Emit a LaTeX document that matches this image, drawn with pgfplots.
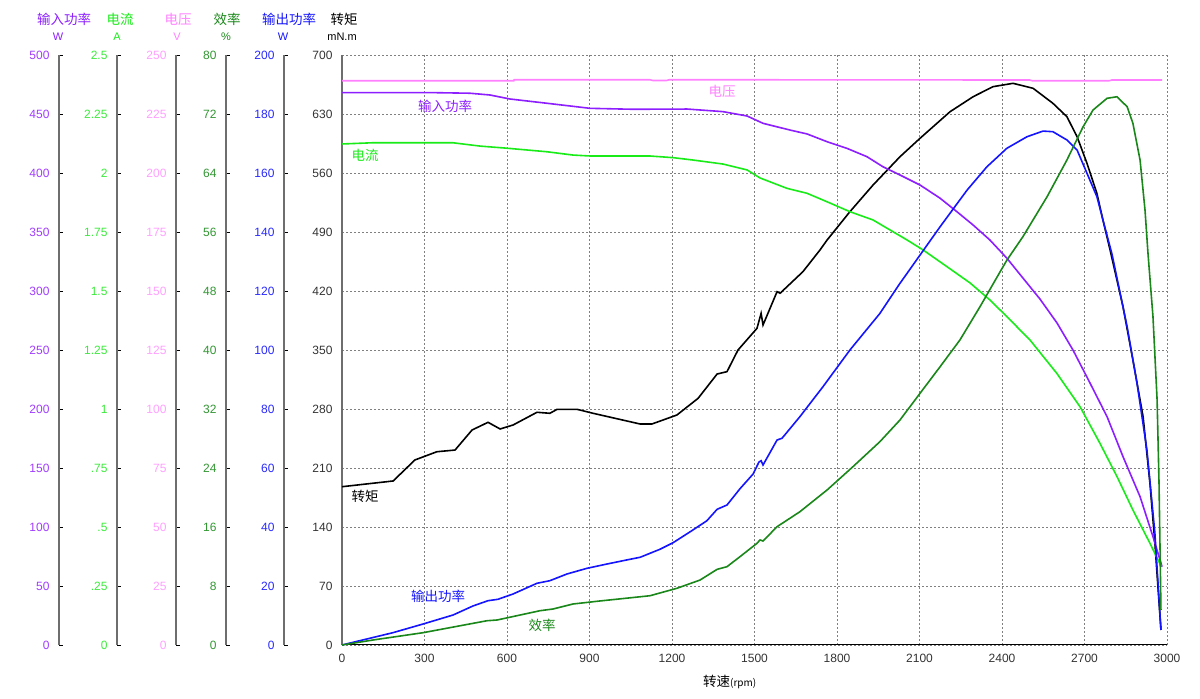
\documentclass[border=0pt]{standalone}
\usepackage{pgfplots}
\pgfplotsset{compat=1.18}
\usepackage{fontspec}
\setmainfont{Liberation Sans}
\newfontfamily\cjk{Noto Sans CJK SC}
\definecolor{cpin}{RGB}{140,30,255}
\definecolor{ccur}{RGB}{25,235,25}
\definecolor{cvol}{RGB}{255,128,255}
\definecolor{ceff}{RGB}{25,135,25}
\definecolor{cout}{RGB}{20,20,255}
\definecolor{tpin}{RGB}{160,60,255}
\definecolor{tcur}{RGB}{60,235,60}
\definecolor{tvol}{RGB}{255,160,255}
\definecolor{teff}{RGB}{50,150,50}
\definecolor{tout}{RGB}{40,40,255}
\definecolor{axgray}{RGB}{110,110,110}
\newcommand{\tickfont}{\fontsize{12}{13}\selectfont}
\newcommand{\cjkfont}{\cjk\fontsize{13.5}{14}\selectfont}
\pgfplotsset{
  series/.style={scale only axis, width=825pt, height=590pt, at={(342pt,54pt)}, anchor=south west,
    xmin=0, xmax=3000, ymin=0, hide axis, clip=false},
  scaleax/.style={scale only axis, width=1pt, height=590pt, anchor=south west, xmin=0, xmax=1, ymin=0,
    hide x axis, axis y line*=left, tick align=inside, major tick length=4pt,
    y axis line style={color=axgray, line width=1.3pt, -},
    ytick style={black, line width=0.8pt},
    yticklabel style={font=\tickfont, anchor=east, xshift=-6pt},
    /pgf/number format/assume math mode=true, /pgf/number format/1000 sep={}},
}
\begin{document}
\begin{tikzpicture}
\useasboundingbox (0,0) rectangle (1200pt,699pt);
% ---- left scales ----
\begin{axis}[scaleax, at={(59pt,54pt)}, ymax=500, ytick={0,50,...,500}, yticklabel style={color=tpin}]
\addplot[draw=none] coordinates {(0,0)};
\end{axis}
\begin{axis}[scaleax, at={(117pt,54pt)}, ymax=2.5, ytick={0,0.25,0.5,0.75,1,1.25,1.5,1.75,2,2.25,2.5},
  yticklabels={0,.25,.5,.75,1,1.25,1.5,1.75,2,2.25,2.5}, yticklabel style={color=tcur}]
\addplot[draw=none] coordinates {(0,0)};
\end{axis}
\begin{axis}[scaleax, at={(176pt,54pt)}, ymax=250, ytick={0,25,...,250}, yticklabel style={color=tvol}]
\addplot[draw=none] coordinates {(0,0)};
\end{axis}
\begin{axis}[scaleax, at={(226pt,54pt)}, ymax=80, ytick={0,8,...,80}, yticklabel style={color=teff}]
\addplot[draw=none] coordinates {(0,0)};
\end{axis}
\begin{axis}[scaleax, at={(284pt,54pt)}, ymax=200, ytick={0,20,...,200}, yticklabel style={color=tout}]
\addplot[draw=none] coordinates {(0,0)};
\end{axis}
% ---- main axis: torque ----
\begin{axis}[scale only axis, width=825pt, height=590pt, at={(342pt,54pt)}, anchor=south west,
  xmin=0, xmax=3000, ymin=0, ymax=700, xtick={0,300,...,3000}, ytick={0,70,...,700},
  axis x line*=bottom, axis y line*=left,
  x axis line style={black, line width=1pt, -}, y axis line style={axgray, line width=1.3pt, -},
  major tick length=0pt, grid=major,
  major grid style={color=gray, dash pattern=on 2pt off 2pt, line width=0.7pt},
  ticklabel style={font=\tickfont, color=black!80},
  yticklabel style={xshift=-6pt},
  xticklabel style={yshift=-6pt},
  /pgf/number format/assume math mode=true, /pgf/number format/1000 sep={}, clip=false]
\addplot[black, line width=1.6pt] coordinates {
(0,187.8)(186,194.6)(265,219.5)(345,229.3)(411,231.3)(473,255.1)(531,264.2)(575,256.3)(622,261.0)
(709,276.1)(756,274.9)(782,279.6)(855,279.6)(913,274.9)(1084,262.2)(1127,262.2)(1218,272.9)
(1295,292.7)(1364,321.5)(1400,324.3)(1440,350.0)(1509,375.7)(1524,393.5)(1531,379.7)(1582,419.2)
(1593,417.3)(1676,442.9)(1738,468.6)(1764,480.5)(1847,514.1)(1931,545.7)(2029,579.3)(2102,601.2)
(2211,632.7)(2295,650.5)(2367,662.4)(2440,666.4)(2513,660.5)(2585,642.7)(2636,626.8)(2673,603.1)
(2709,571.5)(2745,535.9)(2767,504.2)(2793,468.6)(2840,401.4)(2876,338.1)(2913,270.9)(2938,191.8)
(2956,120.7)(2978,17.8)};
\end{axis}
% ---- voltage ----
\begin{axis}[series, ymax=250]
\addplot[cvol, line width=1.6pt] coordinates {
(0,239.1)(625,239.1)(626,239.5)(1120,239.5)(1130,239.2)(1180,239.2)(1190,239.5)(1450,239.5)
(2500,239.4)(2510,239.1)(2790,239.1)(2800,239.4)(2982,239.4)};
\end{axis}
% ---- input power ----
\begin{axis}[series, ymax=500]
\addplot[cpin, line width=1.6pt] coordinates {
(0,468.1)(331,468.1)(465,467.6)(538,466.1)(611,462.7)(745,459.1)(902,454.8)(1058,454.0)(1255,454.2)
(1385,452.0)(1473,448.3)(1531,442.1)(1629,436.4)(1691,433.1)(1764,426.5)(1836,420.9)(1909,413.8)
(1967,405.3)(2029,398.3)(2102,389.8)(2175,378.6)(2236,367.2)(2295,355.9)(2356,343.2)(2418,327.7)
(2476,311.0)(2538,293.2)(2600,272.9)(2658,250.0)(2720,222.0)(2782,193.5)(2840,159.6)(2902,125.7)
(2949,91.8)(2982,66.4)};
\end{axis}
% ---- current ----
\begin{axis}[series, ymax=2.5]
\addplot[ccur, line width=1.6pt] coordinates {
(0,2.123)(109,2.128)(404,2.128)(502,2.114)(600,2.105)(745,2.090)(840,2.076)(902,2.072)(1120,2.072)
(1204,2.065)(1276,2.055)(1385,2.038)(1473,2.013)(1520,1.979)(1618,1.935)(1691,1.914)(1764,1.878)
(1847,1.836)(1931,1.801)(1982,1.766)(2055,1.716)(2113,1.674)(2200,1.603)(2284,1.534)(2356,1.462)
(2418,1.391)(2502,1.292)(2600,1.150)(2684,1.009)(2756,0.855)(2818,0.714)(2876,0.572)(2938,0.431)
(2978,0.335)};
\end{axis}
% ---- output power ----
\begin{axis}[series, ymax=200]
\addplot[cout, line width=1.6pt] coordinates {
(0,0)(185,4.17)(295,7.12)(404,10.17)(476,13.22)(531,15.02)(567,15.49)(622,17.29)(709,20.92)
(756,21.80)(818,24.07)(891,26.00)(964,27.46)(1047,29.05)(1084,29.73)(1156,32.44)(1204,34.68)
(1276,38.98)(1327,42.14)(1364,46.00)(1400,47.46)(1447,52.95)(1495,57.97)(1516,62.0)(1524,62.47)
(1531,61.02)(1582,69.49)(1600,70.07)(1665,77.39)(1749,87.56)(1847,100.0)(1956,112.4)(2029,122.6)
(2102,132.2)(2175,141.8)(2273,154.2)(2345,162.1)(2418,168.4)(2491,172.3)(2549,174.2)(2585,174.0)
(2636,171.2)(2673,167.8)(2709,159.9)(2745,152.0)(2767,144.1)(2800,132.5)(2855,107.9)(2891,88.7)
(2927,66.1)(2956,37.9)(2978,5.1)};
\end{axis}
% ---- efficiency ----
\begin{axis}[series, ymax=80]
\addplot[ceff, line width=1.6pt] coordinates {
(0,0)(113,0.68)(295,1.67)(527,3.29)(564,3.39)(720,4.65)(767,4.88)(840,5.56)(938,5.97)(1120,6.68)
(1218,7.69)(1302,8.81)(1364,10.26)(1400,10.62)(1447,11.97)(1509,13.79)(1520,14.24)(1531,14.10)
(1582,16.04)(1665,18.07)(1764,21.02)(1858,24.18)(1956,27.57)(2029,30.51)(2102,34.13)(2175,37.74)
(2247,41.36)(2320,45.87)(2393,50.6)(2418,52.2)(2476,55.36)(2564,60.79)(2636,65.76)(2695,70.28)
(2731,72.54)(2782,74.13)(2818,74.34)(2855,72.99)(2876,70.74)(2902,65.76)(2920,58.98)(2931,53.02)
(2949,44.51)(2964,33.22)(2971,21.92)(2978,4.75)};
\end{axis}
% ---- titles ----
\node[font=\cjkfont, text=cpin] at (64pt,680pt) {输入功率};
\node[font=\cjkfont, text=ccur] at (120pt,680pt) {电流};
\node[font=\cjkfont, text=cvol] at (178pt,680pt) {电压};
\node[font=\cjkfont, text=ceff] at (227pt,680pt) {效率};
\node[font=\cjkfont, text=cout] at (289pt,680pt) {输出功率};
\node[font=\cjkfont, text=black] at (344pt,680pt) {转矩};
\node[font=\fontsize{11}{12}\selectfont, text=cpin] at (58pt,662pt) {W};
\node[font=\fontsize{11}{12}\selectfont, text=ccur] at (117pt,662pt) {A};
\node[font=\fontsize{11}{12}\selectfont, text=cvol] at (177pt,662pt) {V};
\node[font=\fontsize{11}{12}\selectfont, text=ceff] at (226pt,662pt) {\%};
\node[font=\fontsize{11}{12}\selectfont, text=cout] at (283pt,662pt) {W};
\node[font=\fontsize{11}{12}\selectfont, text=black] at (342pt,662pt) {mN.m};
% ---- curve labels ----
\node[font=\cjkfont, text=cvol] at (722pt,608pt) {电压};
\node[font=\cjkfont, text=cpin] at (445pt,593pt) {输入功率};
\node[font=\cjkfont, text=ccur] at (365pt,544pt) {电流};
\node[font=\cjkfont, text=black] at (365pt,203pt) {转矩};
\node[font=\cjkfont, text=cout] at (438pt,103pt) {输出功率};
\node[font=\cjkfont, text=ceff] at (542pt,74pt) {效率};
% ---- x label ----
\node[anchor=base west, inner sep=0pt] at (703pt,12pt) {\cjkfont 转速{\fontsize{10}{11}\selectfont (rpm)}};
\end{tikzpicture}
\end{document}
